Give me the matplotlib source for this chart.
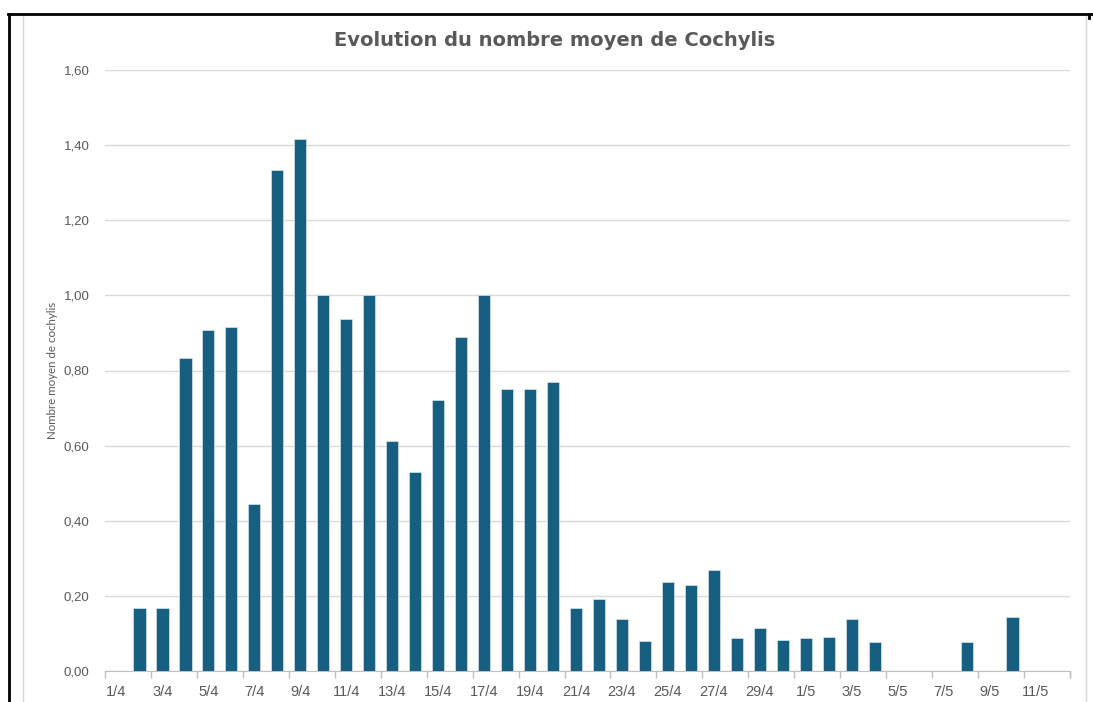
import matplotlib

matplotlib.use("Agg")
import matplotlib.pyplot as plt
from matplotlib.lines import Line2D
import numpy as np

# one category per day, 1/4 -> 12/5
days = [f"{d}/4" for d in range(1, 31)] + [f"{d}/5" for d in range(1, 13)]
moyenne = [
    np.nan, 0.167, 0.167, 0.833, 0.908, 0.915, 0.444, 1.333, 1.417, 1.000,
    0.938, 1.000, 0.611, 0.529, 0.722, 0.889, 1.000, 0.750, 0.750, 0.769,
    0.167, 0.191, 0.138, 0.080, 0.237, 0.228, 0.269, 0.087, 0.114, 0.083,
    0.087, 0.090, 0.138, 0.078, np.nan, np.nan, np.nan, 0.078, np.nan, 0.143,
    np.nan, np.nan,
]
y_ticks = [0.0, 0.2, 0.4, 0.6, 0.8, 1.0, 1.2, 1.4, 1.6]

TXT = "#595959"
BAR = "#165F80"

fig = plt.figure(figsize=(10.93, 7.02), dpi=100)
ax = fig.add_axes([105 / 1093, 1 - 671 / 702, 965 / 1093, (671 - 70) / 702])

x = np.arange(len(days))
ax.bar(x, np.nan_to_num(moyenne), width=0.53, color=BAR, edgecolor="#D6E4EC",
       linewidth=0.5, zorder=3)

ax.set_xlim(-0.5, len(days) - 0.5)
ax.set_ylim(0, 1.6)
ax.set_yticks(y_ticks)
ax.set_yticklabels([f"{v:.2f}".replace(".", ",") for v in y_ticks],
                   fontsize=9.5, color=TXT, fontfamily="Liberation Sans")
ax.tick_params(axis="y", length=0, pad=11)
ax.grid(axis="y", color="#D9D9D9", linewidth=1, zorder=0)

ax.set_xticks(x[::2])
ax.set_xticklabels(days[::2], fontsize=10.5, color=TXT, fontfamily="Liberation Sans")
ax.set_xticks(np.arange(-0.5, len(days), 2).tolist() + [len(days) - 0.5], minor=True)
ax.tick_params(axis="x", which="major", length=0, pad=10)
ax.tick_params(axis="x", which="minor", length=5, color="#BFBFBF", width=1)

for side in ["top", "right", "left"]:
    ax.spines[side].set_visible(False)
ax.spines["bottom"].set_color("#BFBFBF")

ax.set_ylabel("Nombre moyen de cochylis", fontsize=8.3, color=TXT,
              fontfamily="Lato")
ax.yaxis.set_label_coords(-47 / 965, (671 - 370) / 601)

fig.text(555 / 1093, 1 - 40 / 702, "Evolution du nombre moyen de Cochylis",
         ha="center", va="center", fontsize=14, fontweight="bold", color=TXT,
         fontfamily="DejaVu Sans")

# chart border and sheet frame
fig.add_artist(Line2D([23 / 1093, 23 / 1093], [0, 1 - 16 / 702], color="#D9D9D9", lw=1))
fig.add_artist(Line2D([1086 / 1093, 1086 / 1093], [0, 1 - 16 / 702], color="#D9D9D9", lw=1))
fig.add_artist(Line2D([9 / 1093, 9 / 1093], [0, 1 - 14 / 702], color="black", lw=2))
fig.add_artist(Line2D([8 / 1093, 1092 / 1093], [1 - 14 / 702, 1 - 14 / 702], color="black", lw=2))
fig.add_artist(Line2D([1089 / 1093, 1089 / 1093], [1 - 14 / 702, 1 - 18 / 702], color="black", lw=2))

fig.savefig("out.png", dpi=100)
plt.close(fig)
